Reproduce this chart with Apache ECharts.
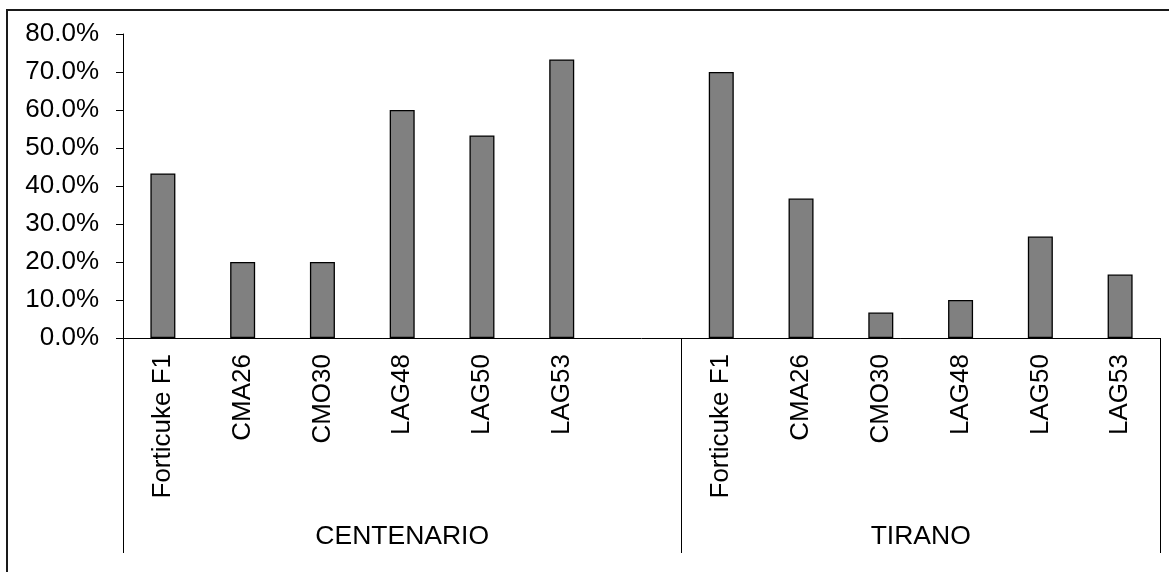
<!DOCTYPE html>
<html>
<head>
<meta charset="utf-8">
<script src="https://cdn.jsdelivr.net/npm/echarts@6/dist/echarts.min.js"></script>
<style>
  html, body { margin: 0; padding: 0; background: #fff; }
  #chart { width: 1169px; height: 572px; }
</style>
</head>
<body>
<div id="chart"></div>
<script>
// ---- data ----
const groupNames = ['CENTENARIO', 'TIRANO'];
const centenarioCultivars = ['Forticuke F1', 'CMA26', 'CMO30', 'LAG48', 'LAG50', 'LAG53', ''];
const centenarioValues = [0.433, 0.200, 0.200, 0.600, 0.533, 0.733, null];
const tiranoCultivars = ['Forticuke F1', 'CMA26', 'CMO30', 'LAG48', 'LAG50', 'LAG53'];
const tiranoValues = [0.700, 0.367, 0.067, 0.100, 0.267, 0.167];
const yTicks = [0, 0.1, 0.2, 0.3, 0.4, 0.5, 0.6, 0.7, 0.8];

// ---- derived ----
const categories = centenarioCultivars.concat(tiranoCultivars);
const values = centenarioValues.concat(tiranoValues);
const groupSizes = [centenarioCultivars.length, tiranoCultivars.length];
const groupBounds = [0];
groupSizes.forEach(s => groupBounds.push(groupBounds[groupBounds.length - 1] + s));
const groupCenters = groupSizes.map((s, i) => groupBounds[i] + s / 2);
const total = groupBounds[groupBounds.length - 1];

const FONT = "'Liberation Sans', Arial, sans-serif";
const chart = echarts.init(document.getElementById('chart'), null, { renderer: 'canvas' });
chart.setOption({
  animation: false,
  backgroundColor: '#ffffff',
  graphic: [{
    type: 'rect',
    shape: { x: 7, y: 10, width: 1400, height: 800 },
    style: { fill: 'none', stroke: '#1a1a1a', lineWidth: 2 },
    silent: true
  }],
  grid: { left: 123, right: 9, top: 34, bottom: 234, containLabel: false },
  xAxis: [{
    type: 'category',
    data: categories,
    position: 'bottom',
    boundaryGap: true,
    axisLine: { show: true, lineStyle: { color: '#000', width: 1 } },
    axisTick: { show: false },
    axisLabel: {
      interval: 0, rotate: 90, margin: 16,
      color: '#000', fontFamily: FONT, fontSize: 26
    },
    splitLine: { show: false }
  }, {
    type: 'value',
    position: 'bottom',
    min: 0, max: total,
    axisLine: { show: false },
    axisTick: {
      show: true, customValues: groupBounds, length: 215, inside: false,
      lineStyle: { color: '#000', width: 1 }
    },
    axisLabel: {
      show: true, customValues: groupCenters, margin: 199,
      verticalAlign: 'middle',
      formatter: v => {
        const i = groupCenters.indexOf(v);
        return i >= 0 ? groupNames[i] : '';
      },
      color: '#000', fontFamily: FONT, fontSize: 26.5
    },
    splitLine: { show: false }
  }],
  yAxis: {
    type: 'value',
    min: yTicks[0], max: yTicks[yTicks.length - 1], interval: 0.1,
    axisLine: { show: true, lineStyle: { color: '#000', width: 1 } },
    axisTick: { show: true, length: 7, inside: false, lineStyle: { color: '#000', width: 1 } },
    axisLabel: {
      margin: 24, color: '#000', fontFamily: FONT, fontSize: 26,
      formatter: v => (v * 100).toFixed(1) + '%'
    },
    splitLine: { show: false }
  },
  series: [{
    type: 'bar',
    xAxisIndex: 0,
    yAxisIndex: 0,
    data: values,
    barWidth: 25,
    itemStyle: { color: '#808080', borderColor: '#000', borderWidth: 1.3 }
  }]
});
</script>
</body>
</html>
